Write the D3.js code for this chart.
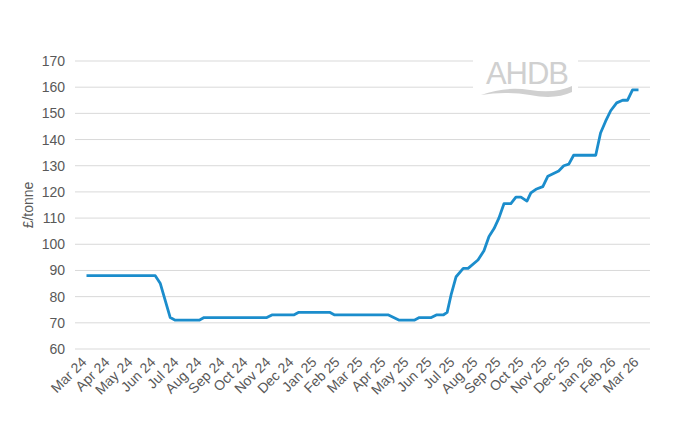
<!DOCTYPE html><html><head><meta charset="utf-8"><script src="https://cdn.jsdelivr.net/npm/d3@7"></script>
<style>body{margin:0;background:#fff}text{font-family:Arial,"Liberation Sans",sans-serif}</style></head><body><svg id="c" width="679" height="438"></svg><script>
const months=["Mar 24","Apr 24","May 24","Jun 24","Jul 24","Aug 24","Sep 24","Oct 24","Nov 24","Dec 24","Jan 25","Feb 25","Mar 25","Apr 25","May 25","Jun 25","Jul 25","Aug 25","Sep 25","Oct 25","Nov 25","Dec 25","Jan 26","Feb 26","Mar 26"];
// position in months from mid Mar 24
const pos=[0,2.99,3.21,3.64,3.86,4.9,5.11,7.84,8.06,9.01,9.23,10.57,10.79,13.13,13.6,14.25,14.47,14.99,15.21,15.51,15.68,15.86,16.07,16.38,16.59,17.02,17.28,17.5,17.72,17.93,18.15,18.45,18.67,18.89,19.15,19.32,19.54,19.84,20.06,20.53,20.75,20.97,21.18,22.14,22.35,22.57,22.79,23.05,23.31,23.52,23.74,24];
const price=[88,88,85,72,71,71,72,72,73,73,74,74,73,73,71,71,72,72,73,73,74,81,87.6,90.8,90.8,94,97.5,103,106,110,115.5,115.5,118,118,116.5,119.6,121,122,126,128,130,130.6,134,134,142.5,147,151,154,155,155,159,159];
const yTicks=[60,70,80,90,100,110,120,130,140,150,160,170];
const svg=d3.select("#c");
const L=75,R=650,T=61,B=349;
const x=d3.scaleLinear().domain([-0.5,24.5]).range([L,R]);
const y=d3.scaleLinear().domain([60,170]).range([B,T]);
svg.append("g").selectAll("line").data(yTicks).join("line").attr("x1",L).attr("x2",R).attr("y1",d=>y(d)).attr("y2",d=>y(d)).attr("stroke","#d9d9d9").attr("stroke-width",1);
svg.append("g").selectAll("text").data(yTicks).join("text").attr("x",L-10).attr("y",d=>y(d)+5).attr("text-anchor","end").attr("font-size",14).attr("fill","#595959").text(d=>d);
svg.append("text").attr("transform","translate(33,205) rotate(-90)").attr("text-anchor","middle").attr("font-size",14).attr("fill","#595959").text("£/tonne");
svg.append("g").selectAll("text").data(months).join("text").attr("transform",(d,i)=>`translate(${x(i)+1},${B+14}) rotate(-45)`).attr("text-anchor","end").attr("font-size",14).attr("fill","#595959").text(d=>d);
const lg=svg.append("g");
lg.append("rect").attr("x",473).attr("y",55).attr("width",105).attr("height",45).attr("fill","#fff");
lg.append("text").attr("x",527).attr("y",84).attr("text-anchor","middle").attr("font-size",31).attr("fill","#d0d0d0").attr("letter-spacing","-1").text("AHDB");
lg.append("path").attr("d","M481,95 Q505,86 530,90 Q555,94 572,86 L572,92 Q555,100 530,95 Q505,91 481,95 Z").attr("fill","#d0d0d0");
const line=d3.line().x(d=>x(d[0])).y(d=>y(d[1]));
svg.append("path").datum(pos.map((p,i)=>[p,price[i]])).attr("d",line).attr("fill","none").attr("stroke","#1b8dcc").attr("stroke-width",2.8).attr("stroke-linejoin","round");
</script></body></html>
